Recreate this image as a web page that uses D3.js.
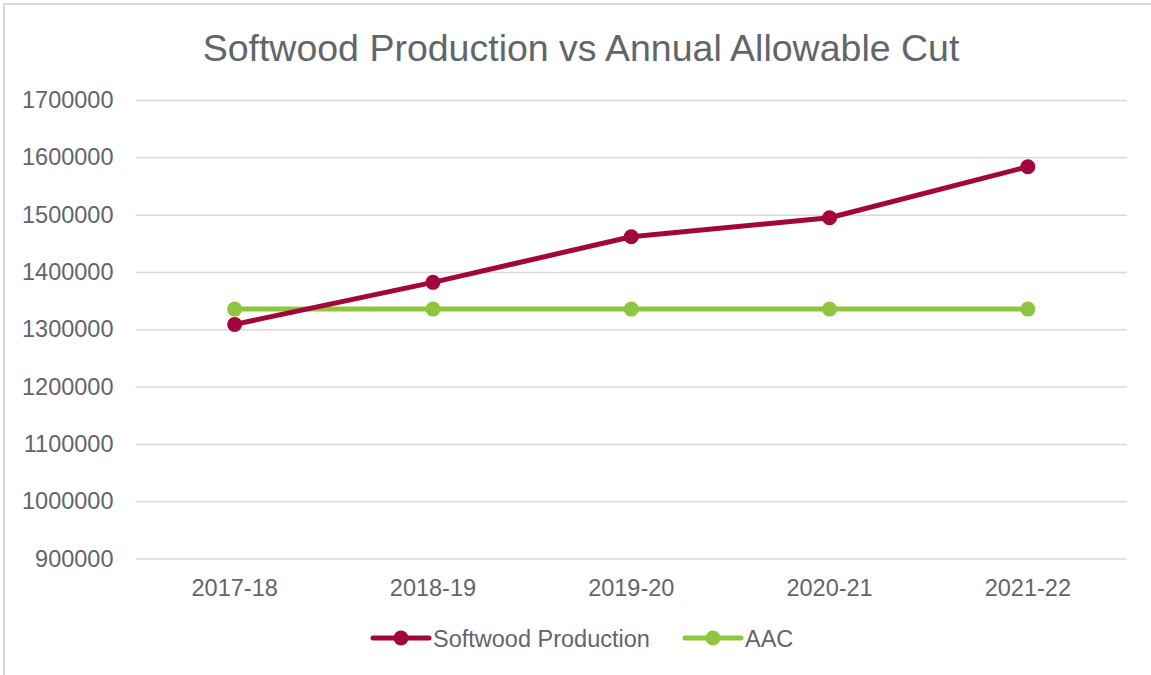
<!DOCTYPE html>
<html><head><meta charset="utf-8">
<script src="https://cdn.jsdelivr.net/npm/d3@7"></script>
<style>
html,body{margin:0;padding:0;background:#fff;}
svg{display:block;font-family:"Liberation Sans",Arial,sans-serif;}
</style></head>
<body><svg id="c" width="1151" height="675"></svg>
<script>
const title = "Softwood Production vs Annual Allowable Cut";
const categories = ["2017-18","2018-19","2019-20","2020-21","2021-22"];
const softwood = [1308500, 1381800, 1461400, 1494500, 1583600];
const aac = [1335200, 1335200, 1335200, 1335200, 1335200];
const yTicks = [900000,1000000,1100000,1200000,1300000,1400000,1500000,1600000,1700000];
const seriesNames = ["Softwood Production","AAC"];
const colors = ["#a2063d","#8fc63f"];

(function(){
const svg = d3.select("#c");
const W = 1151, H = 675;
const pLeft = 135.5, pRight = 1127, pTop = 100, pBottom = 558.5;
const textColor = "#62656a";
const fs = 23.5;

svg.append("rect").attr("x",4).attr("y",4).attr("width",W).attr("height",H+10)
  .attr("fill","#fff").attr("stroke","#d9d9d9").attr("stroke-width",2);

svg.append("text").attr("x",581).attr("y",61).attr("text-anchor","middle")
  .attr("font-size",37.5).attr("fill",textColor).text(title);

const x = d3.scaleBand().domain(categories).range([pLeft,pRight]);
const y = d3.scaleLinear().domain([900000,1700000]).range([pBottom,pTop]);

const yAxis = d3.axisLeft(y).tickValues(yTicks).tickSize(-(pRight-pLeft)).tickPadding(22).tickFormat(d3.format("d"));
const gy = svg.append("g").attr("transform",`translate(${pLeft},0)`).call(yAxis);
gy.select(".domain").remove();
gy.selectAll(".tick line").attr("stroke","#d9d9d9").attr("stroke-width",1.5);
gy.selectAll(".tick text").attr("font-size",fs).attr("fill",textColor).attr("font-family","Liberation Sans, Arial, sans-serif").attr("x",-22);

const xAxis = d3.axisBottom(x).tickSize(0).tickPadding(21);
const gx = svg.append("g").attr("transform",`translate(0,${pBottom})`).call(xAxis);
gx.select(".domain").remove();
gx.selectAll(".tick text").attr("font-size",fs).attr("fill",textColor).attr("font-family","Liberation Sans, Arial, sans-serif");

const cx = d => x(d) + x.bandwidth()/2;
const data = [softwood, aac];
[1,0].forEach(i => {
  const vals = data[i];
  const line = d3.line().x((d,j)=>cx(categories[j])).y(d=>y(d));
  svg.append("path").datum(vals).attr("d",line).attr("fill","none")
    .attr("stroke",colors[i]).attr("stroke-width",5).attr("stroke-linejoin","round");
  svg.selectAll(null).data(vals).enter().append("circle")
    .attr("cx",(d,j)=>cx(categories[j])).attr("cy",d=>y(d)).attr("r",7.5).attr("fill",colors[i]);
});

const legendItems = [{x:373, name:seriesNames[0], c:colors[0]},{x:685, name:seriesNames[1], c:colors[1]}];
const ly = 638;
legendItems.forEach(it => {
  const g = svg.append("g");
  g.append("line").attr("x1",it.x).attr("x2",it.x+56).attr("y1",ly).attr("y2",ly)
    .attr("stroke",it.c).attr("stroke-width",5).attr("stroke-linecap","round");
  g.append("circle").attr("cx",it.x+28).attr("cy",ly).attr("r",7.5).attr("fill",it.c);
  g.append("text").attr("x",it.x+60).attr("y",ly+8.5).attr("font-size",fs).attr("fill",textColor).text(it.name);
});
})();
</script></body></html>
